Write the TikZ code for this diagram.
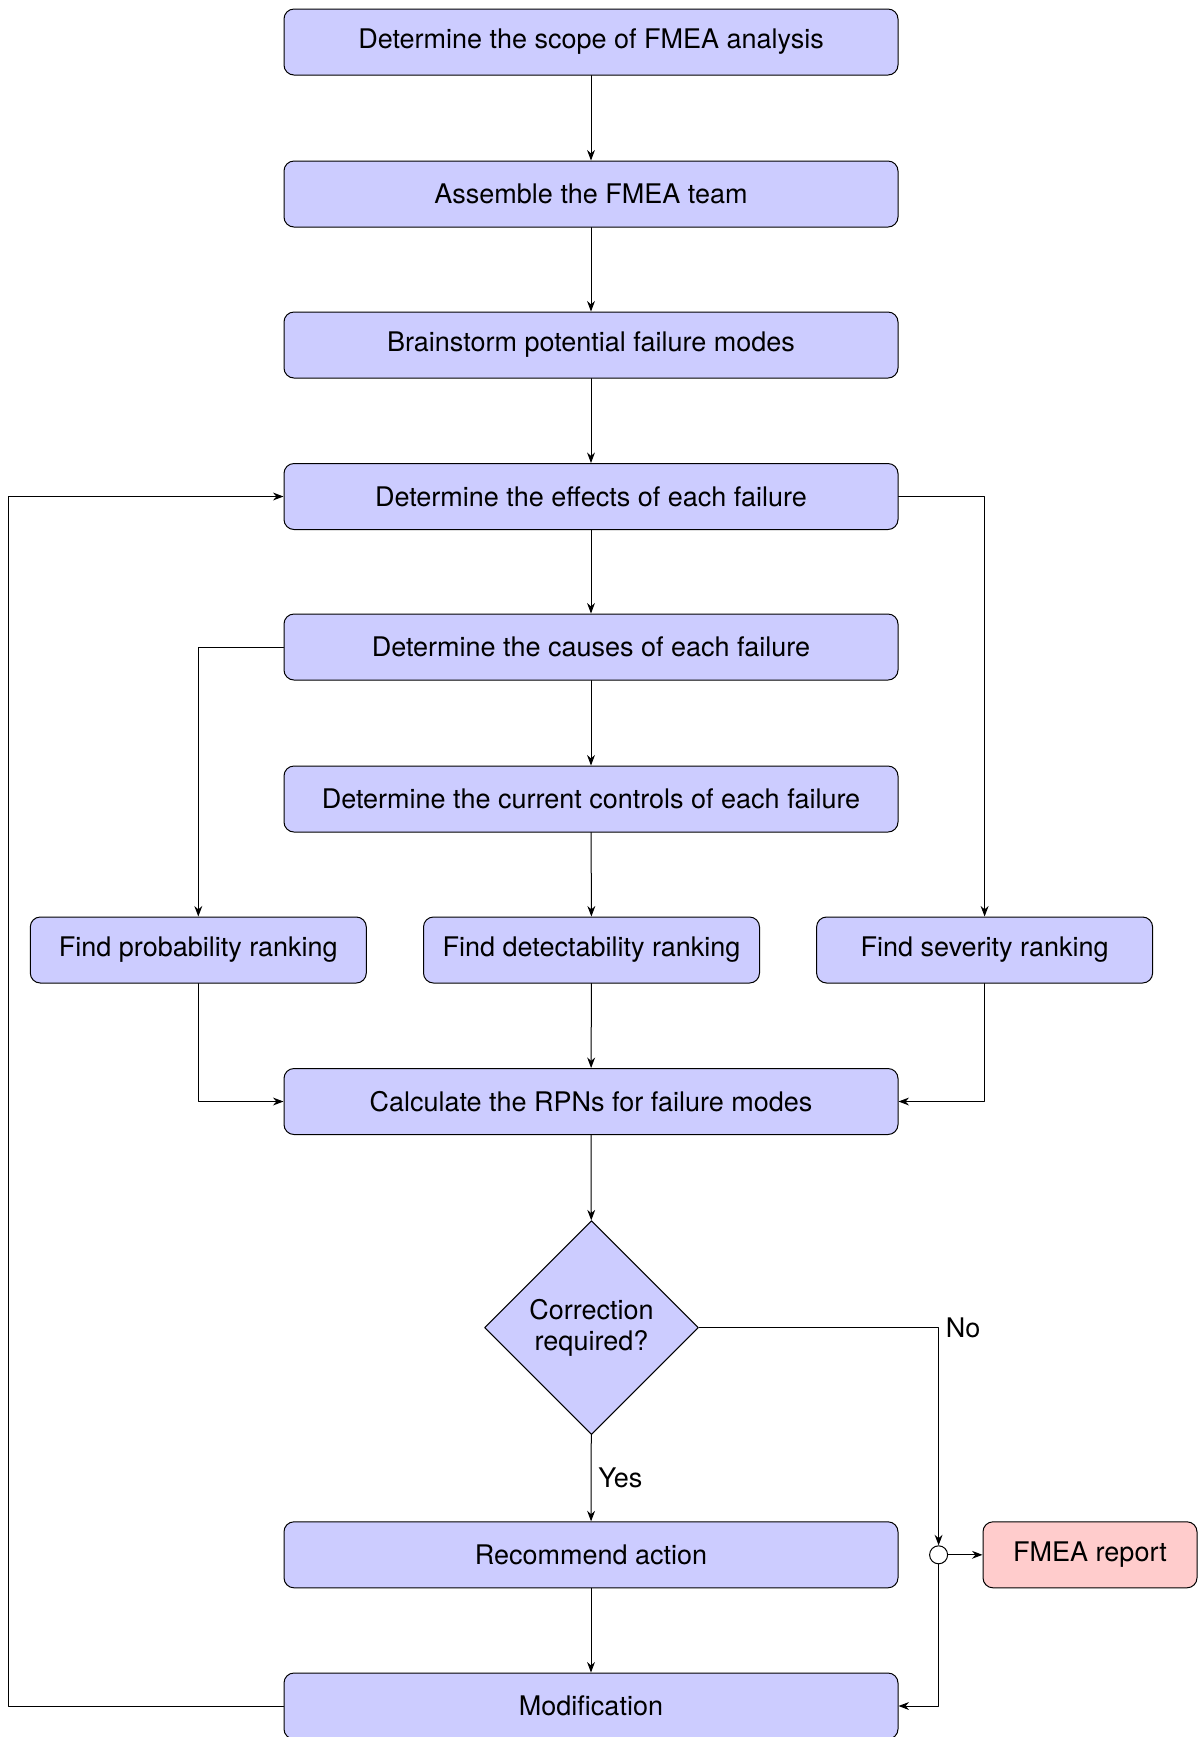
\documentclass[tikz,border=0pt]{standalone}
\usepackage{fontspec}
\setmainfont{TeX Gyre Heros}
\usetikzlibrary{arrows.meta,shapes.geometric}
\tikzset{
  every picture/.style={line join=round, line cap=round, >=Stealth},
  block/.style={draw, rounded corners=5pt, fill=blue!20, minimum width=307pt, minimum height=33pt, inner sep=0pt},
  rowblock/.style={block, minimum width=168pt},
  decision/.style={draw, diamond, aspect=1, fill=blue!20, minimum size=107pt, inner sep=0pt, align=center},
  report/.style={block, fill=red!20, minimum width=107pt},
  junction/.style={draw, circle, fill=white, minimum size=9pt, inner sep=0pt},
}

\begin{document}
\begin{tikzpicture}[x=0.5pt,y=-0.5pt,line width=0.5pt,font=\fontsize{13.5}{15.5}\selectfont]
\useasboundingbox (0,0) rectangle (1198,1737);
\node[block] (scope) at (591,42) {Determine the scope of FMEA analysis};
\node[block] (team) at (591,194) {Assemble the FMEA team};
\node[block] (brainstorm) at (591,345) {Brainstorm potential failure modes};
\node[block] (effects) at (591,496.5) {Determine the effects of each failure};
\node[block] (causes) at (591,647) {Determine the causes of each failure};
\node[block] (controls) at (591,799) {Determine the current controls of each failure};
\node[rowblock] (prob) at (198.3,950) {Find probability ranking};
\node[rowblock] (detect) at (591.5,950) {Find detectability ranking};
\node[rowblock] (sev) at (984.6,950) {Find severity ranking};
\node[block] (rpn) at (591,1101.5) {Calculate the RPNs for failure modes};
\node[decision] (corr) at (591.5,1327.6) {Correction\\required?};
\node[block] (action) at (591,1554.8) {Recommend action};
\node[block] (modif) at (591,1706) {Modification};
\node[report] (report) at (1090,1554.8) {FMEA report};
\node[junction] (junc) at (938.6,1554.8) {};
\coordinate (left) at (8.9,0);

\draw[->] (scope) -- (team);
\draw[->] (team) -- (brainstorm);
\draw[->] (brainstorm) -- (effects);
\draw[->] (effects) -- (causes);
\draw[->] (causes) -- (controls);
\draw[->] (controls) -- (detect);
\draw[->] (effects.east) -| (sev.north);
\draw[->] (causes.west) -| (prob.north);
\draw[->] (prob.south) |- (rpn.west);
\draw[->] (detect) -- (rpn);
\draw[->] (sev.south) |- (rpn.east);
\draw[->] (rpn) -- (corr);
\draw[->] (corr) -- node[right]{Yes} (action);
\draw[->] (corr.east) -| node[pos=0.5,right]{No} (junc.north);
\draw[->] (junc) -- (report);
\draw[->] (junc.south) |- (modif.east);
\draw[->] (action) -- (modif);
\draw[->] (modif.west) -- (modif.west -| left) |- (effects.west);
\end{tikzpicture}
\end{document}
